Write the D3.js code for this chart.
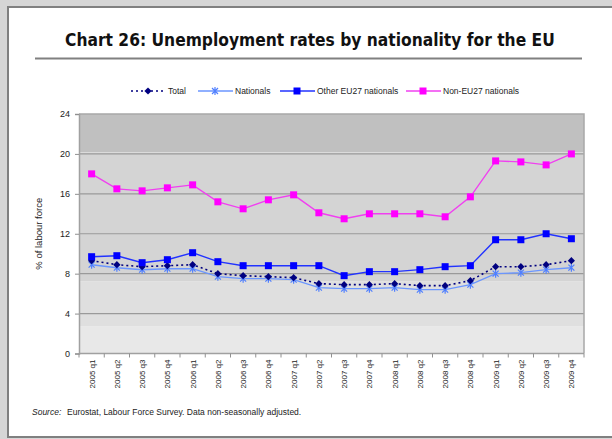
<!DOCTYPE html>
<html>
<head>
<meta charset="utf-8">
<script src="https://cdn.jsdelivr.net/npm/d3@7/dist/d3.min.js"></script>
<style>
  html, body { margin: 0; padding: 0; background: #d6d6d6; }
  svg { display: block; }
</style>
</head>
<body>
<svg id="chart" width="612" height="439"></svg>
<script>
// Quarterly unemployment rates (%) by nationality, EU27
const quarters = [
  "2005 q1","2005 q2","2005 q3","2005 q4",
  "2006 q1","2006 q2","2006 q3","2006 q4",
  "2007 q1","2007 q2","2007 q3","2007 q4",
  "2008 q1","2008 q2","2008 q3","2008 q4",
  "2009 q1","2009 q2","2009 q3","2009 q4"
];
const total     = [9.3, 8.9, 8.7, 8.8, 8.9, 8.0, 7.8, 7.7, 7.6, 7.0, 6.9, 6.9, 7.0, 6.8, 6.8, 7.3, 8.7, 8.7, 8.9, 9.3];
const nationals = [8.9, 8.6, 8.4, 8.5, 8.5, 7.7, 7.5, 7.5, 7.4, 6.6, 6.5, 6.5, 6.6, 6.4, 6.4, 6.9, 8.0, 8.1, 8.4, 8.6];
const otherEU27 = [9.7, 9.8, 9.1, 9.4, 10.1, 9.2, 8.8, 8.8, 8.8, 8.8, 7.8, 8.2, 8.2, 8.4, 8.7, 8.8, 11.4, 11.4, 12.0, 11.5];
const nonEU27   = [18.0, 16.5, 16.3, 16.6, 16.9, 15.2, 14.5, 15.4, 15.9, 14.1, 13.5, 14.0, 14.0, 14.0, 13.7, 15.7, 19.3, 19.2, 18.9, 20.0];
const yTicks = [0, 4, 8, 12, 16, 20, 24];

const series = [
  { name: "Total",               values: total,     color: "#000080", line: "#000080", dash: "2,3", marker: "diamond" },
  { name: "Nationals",           values: nationals, color: "#4f7fff", line: "#6b96ff", dash: null,  marker: "asterisk" },
  { name: "Other EU27 nationals",values: otherEU27, color: "#0000ff", line: "#2233ff", dash: null,  marker: "square" },
  { name: "Non-EU27 nationals",  values: nonEU27,   color: "#ff00ff", line: "#f040f0", dash: null,  marker: "square" }
];

const svg = d3.select("#chart");
const font = "'Liberation Sans', Arial, sans-serif";

// Outer panel
svg.append("rect").attr("x", 8).attr("y", 7).attr("width", 640).attr("height", 430)
  .attr("fill", "#ffffff").attr("stroke", "#808080").attr("stroke-width", 2);

// Title, squeezed horizontally to span 65..555 while keeping its height
const titleG = svg.append("g");
const title = titleG.append("text").attr("x", 0).attr("y", 0)
  .attr("font-family", "'DejaVu Sans Condensed', 'DejaVu Sans', sans-serif").attr("font-weight", "bold")
  .attr("font-size", 18.5).attr("fill", "#111")
  .text("Chart 26: Unemployment rates by nationality for the EU");
const titleW = title.node().getComputedTextLength();
titleG.attr("transform", `translate(65,46) scale(${490 / titleW},1)`);
svg.append("line").attr("x1", 35).attr("x2", 582).attr("y1", 58.5).attr("y2", 58.5)
  .attr("stroke", "#808080").attr("stroke-width", 2);

// Plot area
const plot = { left: 79, right: 584, top: 114, bottom: 353.5 };
const x = d3.scaleBand().domain(quarters).range([plot.left, plot.right]);
const y = d3.scaleLinear().domain([0, 24]).range([plot.bottom, plot.top]);

// Background shading bands
const bands = [
  { from: 24,  to: 20.15, fill: "#c0c0c0" },
  { from: 20.15, to: 7.25, fill: "#d4d4d4" },
  { from: 7.25, to: 2.75, fill: "#dfdfdf" },
  { from: 2.75, to: 0,    fill: "#e8e8e8" }
];
svg.append("g").selectAll("rect").data(bands).join("rect")
  .attr("x", plot.left).attr("width", plot.right - plot.left)
  .attr("y", d => y(d.from)).attr("height", d => y(d.to) - y(d.from))
  .attr("fill", d => d.fill);

// Horizontal gridlines
svg.append("g").selectAll("line").data(yTicks.filter(t => t > 0 && t < 24)).join("line")
  .attr("x1", plot.left).attr("x2", plot.right)
  .attr("y1", d => y(d)).attr("y2", d => y(d))
  .attr("stroke", "#9a9a9a").attr("stroke-width", 1.2);

// Plot frame (top and right)
svg.append("path")
  .attr("d", `M${plot.left},${plot.top}H${plot.right}V${plot.bottom}`)
  .attr("fill", "none").attr("stroke", "#a8a8a8").attr("stroke-width", 1.5);

// Y axis
const yAxis = d3.axisLeft(y).tickValues(yTicks).tickSize(4).tickPadding(5);
const gy = svg.append("g").attr("transform", `translate(${plot.left},0)`).call(yAxis);
gy.select(".domain").attr("stroke", "#a0a0a0").attr("stroke-width", 1.5);
gy.selectAll(".tick line").attr("stroke", "#909090");
gy.selectAll(".tick text").attr("font-family", font).attr("font-size", 9).attr("fill", "#222");

// X axis with ticks at category boundaries
svg.append("line").attr("x1", plot.left).attr("x2", plot.right)
  .attr("y1", plot.bottom).attr("y2", plot.bottom)
  .attr("stroke", "#a0a0a0").attr("stroke-width", 1.5);
const boundaries = quarters.map(q => x(q)).concat([plot.right]);
svg.append("g").selectAll("line").data(boundaries).join("line")
  .attr("x1", d => d).attr("x2", d => d)
  .attr("y1", plot.bottom).attr("y2", plot.bottom + 4)
  .attr("stroke", "#909090");
svg.append("g").selectAll("text").data(quarters).join("text")
  .attr("transform", d => `translate(${x(d) + x.bandwidth() / 2 + 3},${plot.bottom + 6}) rotate(-90)`)
  .attr("text-anchor", "end")
  .attr("font-family", font).attr("font-size", 8).attr("fill", "#222")
  .text(d => d);

// Y axis title
svg.append("text")
  .attr("transform", `translate(${42},${(plot.top + plot.bottom) / 2}) rotate(-90)`)
  .attr("text-anchor", "middle")
  .attr("font-family", font).attr("font-size", 9.5).attr("fill", "#222")
  .text("% of labour force");

// Marker drawing
function drawMarker(g, type, color) {
  if (type === "diamond") {
    g.append("path").attr("d", "M0,-3.6L3.6,0L0,3.6L-3.6,0Z").attr("fill", color);
  } else if (type === "square") {
    g.append("rect").attr("x", -3.5).attr("y", -3.5).attr("width", 7).attr("height", 7).attr("fill", color);
  } else if (type === "asterisk") {
    g.append("path").attr("d", "M-3,-3L3,3M-3,3L3,-3M0,-4V4")
      .attr("stroke", color).attr("stroke-width", 1.2).attr("fill", "none");
  }
}

// Series lines and markers
const cx = q => x(q) + x.bandwidth() / 2;
const lineGen = d3.line().x((v, i) => cx(quarters[i])).y(v => y(v));
[1, 0, 2, 3].forEach(si => {
  const s = series[si];
  svg.append("path").datum(s.values)
    .attr("d", lineGen).attr("fill", "none")
    .attr("stroke", s.line).attr("stroke-width", s.dash ? 1.6 : 1.4)
    .attr("stroke-dasharray", s.dash);
  s.values.forEach((v, i) => {
    const g = svg.append("g").attr("transform", `translate(${cx(quarters[i])},${y(v)})`);
    drawMarker(g, s.marker, s.color);
  });
});

// Legend
const legendX = [131, 198, 280, 406];
series.forEach((s, i) => {
  const lx = legendX[i], ly = 91;
  svg.append("line").attr("x1", lx).attr("x2", lx + 35).attr("y1", ly).attr("y2", ly)
    .attr("stroke", s.line).attr("stroke-width", s.dash ? 1.6 : 1.4)
    .attr("stroke-dasharray", s.dash);
  const g = svg.append("g").attr("transform", `translate(${lx + 17},${ly})`);
  drawMarker(g, s.marker, s.color);
  svg.append("text").attr("x", lx + 37).attr("y", ly + 3)
    .attr("font-family", font).attr("font-size", 8.5).attr("fill", "#222")
    .text(s.name);
});

// Source note
const src = svg.append("text").attr("x", 32).attr("y", 415)
  .attr("font-family", font).attr("font-size", 8.5).attr("fill", "#222");
src.append("tspan").attr("font-style", "italic").text("Source:");
src.append("tspan").attr("x", 67).text("Eurostat, Labour Force Survey. Data non-seasonally adjusted.");
</script>
</body>
</html>
